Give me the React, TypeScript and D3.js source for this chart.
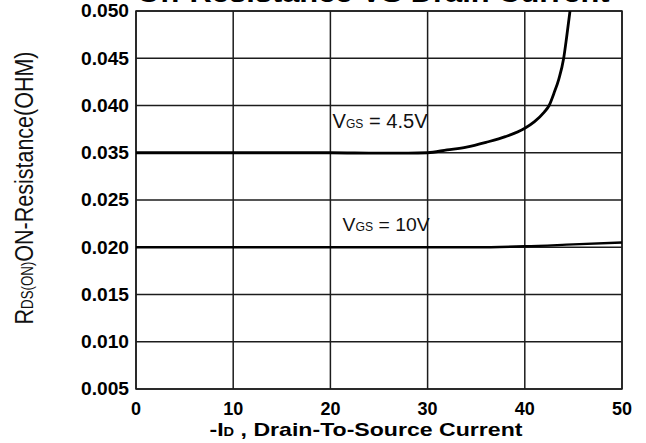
import React from "react";
import * as d3 from "d3";

// Drain current (A) and on-resistance (ohm)
const currentVgs45 = [0, 5, 10, 15, 20, 25, 28, 30, 32, 34, 36, 38, 40, 41, 42, 42.5, 43, 43.5, 44, 44.3, 44.65];
const rdsVgs45 = [0.035, 0.035, 0.035, 0.035, 0.035, 0.0349, 0.0349, 0.035, 0.0353, 0.0356, 0.0361, 0.0367, 0.0376, 0.0383, 0.0393, 0.04, 0.0413, 0.0428, 0.045, 0.0472, 0.05];

const currentVgs10 = [0, 10, 20, 30, 35, 40, 45, 50];
const rdsVgs10 = [0.02, 0.02, 0.02, 0.02, 0.02, 0.0201, 0.0203, 0.0205];

// Axis ticks (the reference labels skip 0.030 but keep equal spacing)
const xTicks = [0, 10, 20, 30, 40, 50];
const yTicks = [0.005, 0.01, 0.015, 0.02, 0.025, 0.035, 0.04, 0.045, 0.05];
const yTickLabels = ["0.005", "0.010", "0.015", "0.020", "0.025", "0.035", "0.040", "0.045", "0.050"];

const W = 646;
const H = 443;
const M = { left: 136, right: 24, top: 11, bottom: 54 };
const FONT = "'Liberation Sans', Arial, Helvetica, sans-serif";

export default function App() {
  const x = d3.scaleLinear().domain([0, 50]).range([M.left, W - M.right]);
  const bottom = H - M.bottom;
  const top = M.top;
  const step = (bottom - top) / (yTicks.length - 1);
  const y = d3
    .scaleLinear()
    .domain(yTicks)
    .range(yTicks.map((_, i) => bottom - i * step));

  const line = d3
    .line<[number, number]>()
    .x((d) => x(d[0]))
    .y((d) => y(d[1]))
    .curve(d3.curveMonotoneX);

  const d45 = line(currentVgs45.map((c, i) => [c, rdsVgs45[i]] as [number, number])) || "";
  const d10 = line(currentVgs10.map((c, i) => [c, rdsVgs10[i]] as [number, number])) || "";

  const gridColor = "#1c1c1c";
  const x0 = x(0);
  const x1 = x(50);
  const cx = (x0 + x1) / 2;

  return (
    <svg
      width={W}
      height={H}
      viewBox={`0 0 ${W} ${H}`}
      style={{ position: "absolute", left: 0, top: 0, display: "block", background: "#fff" }}
      fontFamily={FONT}
    >
      <rect x={0} y={0} width={W} height={H} fill="#fff" />
      {/* Title, clipped at top in reference */}
      <text
        x={cx - 6}
        y={2}
        textAnchor="middle"
        fontWeight="bold"
        fontSize={26}
        textLength={473}
        lengthAdjust="spacingAndGlyphs"
        fill="#000"
      >
        On-Resistance VS Drain Current
      </text>

      {/* grid */}
      {xTicks.map((t) => (
        <line key={"gx" + t} x1={x(t)} x2={x(t)} y1={top} y2={bottom} stroke={gridColor} strokeWidth={1.5} />
      ))}
      {yTicks.map((t) => (
        <line key={"gy" + t} x1={x0} x2={x1} y1={y(t)} y2={y(t)} stroke={gridColor} strokeWidth={1.5} />
      ))}
      <rect x={x0} y={top} width={x1 - x0} height={bottom - top} fill="none" stroke={gridColor} strokeWidth={1.5} />

      {/* curves */}
      <defs>
        <clipPath id="plotclip">
          <rect x={x0} y={top} width={x1 - x0} height={bottom - top} />
        </clipPath>
      </defs>
      <g clipPath="url(#plotclip)">
        <path d={d45} fill="none" stroke="#000" strokeWidth={2.8} strokeLinejoin="round" />
        <path d={d10} fill="none" stroke="#000" strokeWidth={2.4} strokeLinejoin="round" />
      </g>

      {/* annotations */}
      <text x={x(30)} y={y(0.035) - 25} textAnchor="end" fontSize={20} textLength={95} lengthAdjust="spacingAndGlyphs" fill="#111">
        V<tspan fontSize={12}>GS</tspan> = 4.5V
      </text>
      <text x={x(30) + 2} y={y(0.02) - 16} textAnchor="end" fontSize={19} textLength={87} lengthAdjust="spacingAndGlyphs" fill="#111">
        V<tspan fontSize={12}>GS</tspan> = 10V
      </text>

      {/* y tick labels */}
      {yTicks.map((t, i) => (
        <text
          key={"yl" + t}
          x={x0 - 7}
          y={y(t)}
          dy="0.36em"
          textAnchor="end"
          fontWeight="bold"
          fontSize={18}
          textLength={48}
          lengthAdjust="spacingAndGlyphs"
          fill="#000"
        >
          {yTickLabels[i]}
        </text>
      ))}

      {/* x tick labels */}
      {xTicks.map((t) => (
        <text key={"xl" + t} x={x(t)} y={bottom + 26} textAnchor="middle" fontWeight="bold" fontSize={18} fill="#000">
          {t}
        </text>
      ))}

      {/* x axis title */}
      <text
        x={366}
        y={bottom + 47}
        textAnchor="middle"
        fontWeight="bold"
        fontSize={19}
        textLength={313}
        lengthAdjust="spacingAndGlyphs"
        fill="#000"
      >
        -I<tspan fontSize={12}>D</tspan> , Drain-To-Source Current
      </text>

      {/* y axis title */}
      <text
        transform={`translate(33, ${(top + bottom) / 2 - 12}) scale(1.2, 1) rotate(-90)`}
        textAnchor="middle"
        fontSize={21}
        textLength={273}
        lengthAdjust="spacingAndGlyphs"
        fill="#111"
      >
        R<tspan fontSize={13}>DS(ON)</tspan>ON-Resistance(OHM)
      </text>
    </svg>
  );
}
